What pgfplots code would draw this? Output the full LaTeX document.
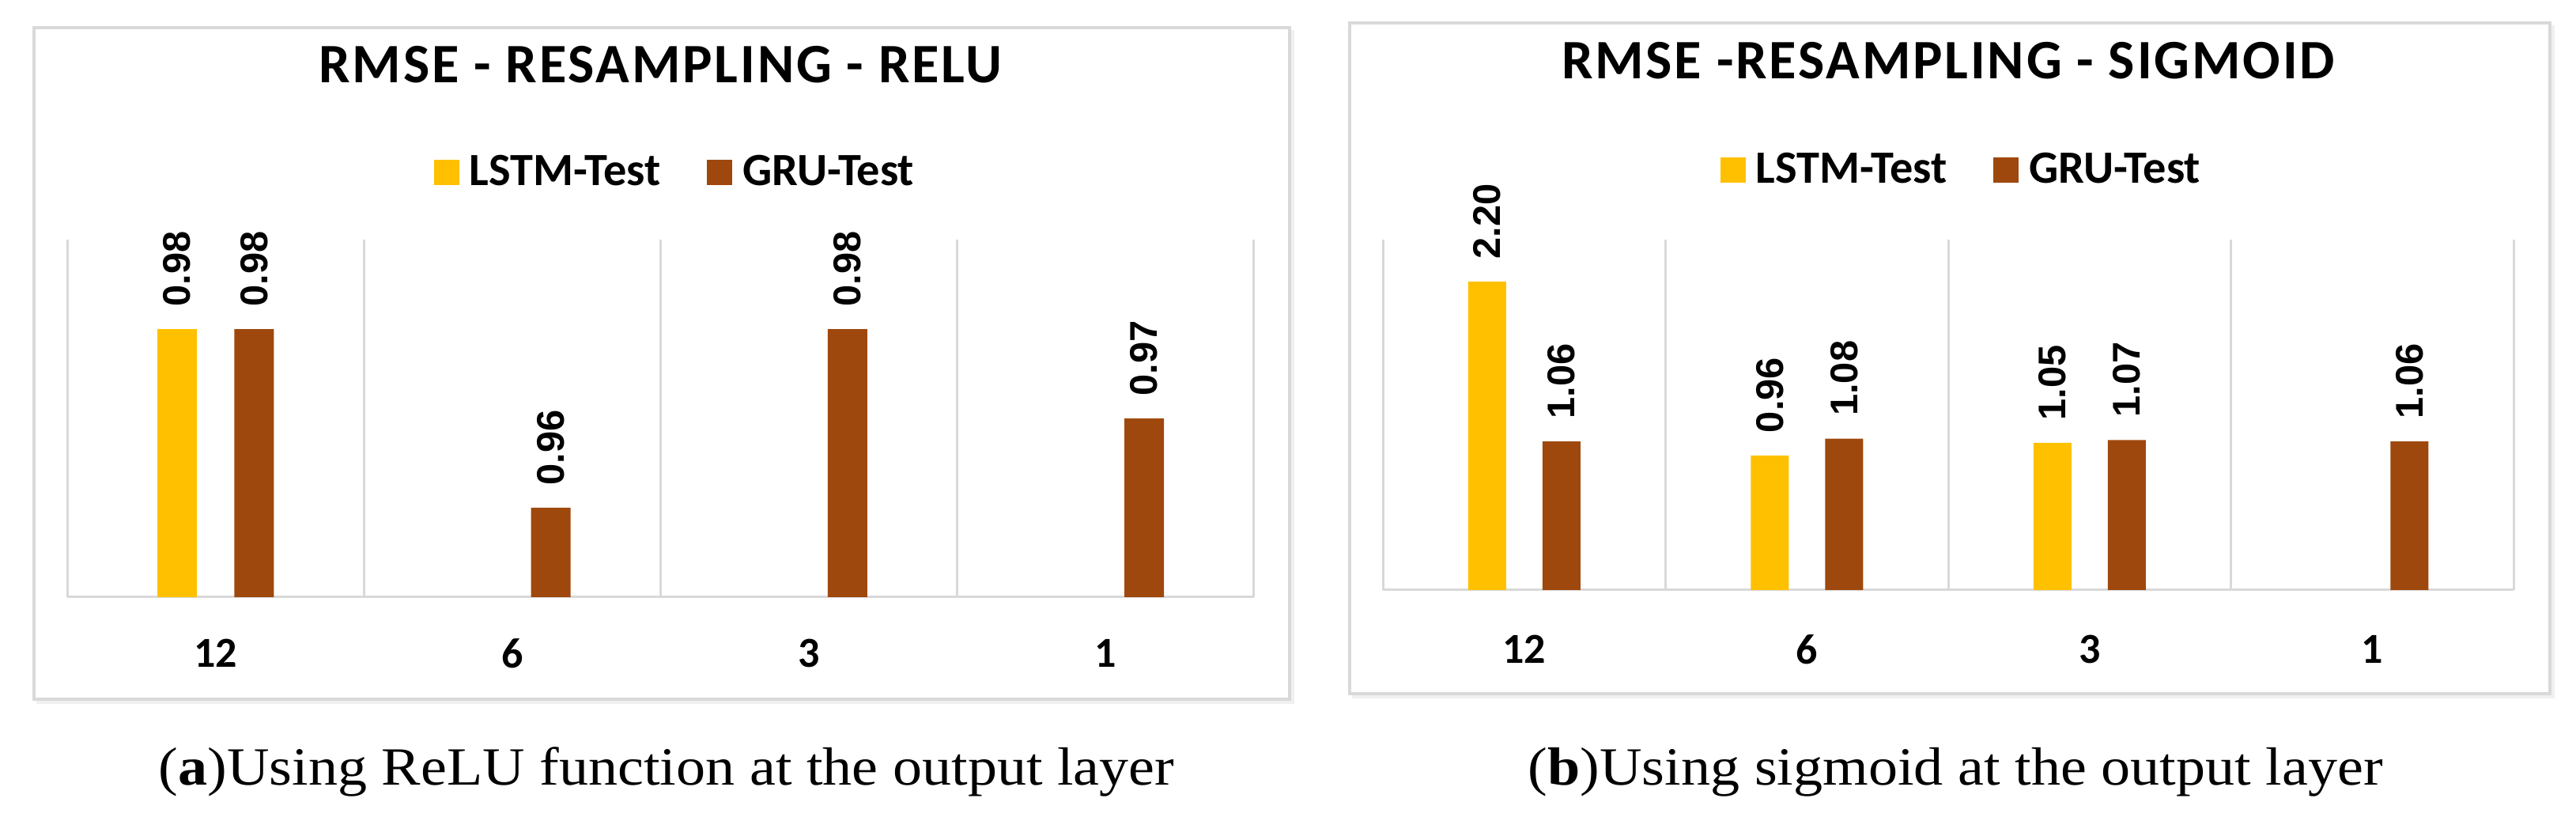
\documentclass[border=0pt]{standalone}
\usepackage{fontspec}
\setmainfont{Carlito}
\newfontfamily\lblfont{Liberation Sans}
\newfontfamily\capfont{Liberation Serif}
\usepackage{graphicx}
\usepackage{pgfplots}
\pgfplotsset{compat=1.18}

\definecolor{lstm}{HTML}{FFC000}
\definecolor{gru}{HTML}{9E480E}
\definecolor{gridc}{HTML}{D9D9D9}

\newcommand{\barlabel}[1]{{\lblfont\bfseries\fontsize{12.2}{14}\selectfont
  \rotatebox{90}{\pgfmathprintnumber[fixed,fixed zerofill,precision=2,assume math mode=true]{#1}}}}

\pgfplotsset{
  rmse/.style={
    scale only axis, anchor=south west,
    xmin=-0.5, xmax=3.5,
    xtick={0,1,2,3}, xticklabels={12,6,3,1},
    minor xtick={-0.5,0.5,1.5,2.5,3.5},
    xminorgrids=true,
    minor grid style={draw=gridc, line width=0.75pt},
    axis x line=bottom, axis y line=none,
    x axis line style={-, draw=gridc, line width=0.75pt},
    ytick=\empty,
    major tick length=0pt, minor tick length=0pt,
    xticklabel style={font=\bfseries\fontsize{13.5}{15}\selectfont, anchor=center},
    title style={font=\bfseries\fontsize{17.6}{19}\selectfont\addfontfeatures{LetterSpace=4}, anchor=center},
    legend columns=2,
    legend style={draw=none, fill=none, inner sep=0pt, anchor=west,
      nodes={inner sep=0pt, font=\bfseries\fontsize{14.6}{16}\selectfont},
      /tikz/every odd column/.append style={column sep=3.25pt},
      /tikz/every even column/.append style={column sep=14.75pt}},
    nodes near coords={\barlabel{\pgfplotspointmeta}},
    every node near coord/.append style={inner xsep=0pt, inner ysep=7pt, text=black},
  },
  sq/.style={legend image code/.code={\fill[##1] (0pt,-4pt) rectangle (8pt,4pt);}},
}

\begin{document}
\begin{tikzpicture}
\useasboundingbox (0,0) rectangle (814.5pt,259.5pt);

% chart frames with a faint shadow
\draw[black!6, line width=1.2pt] (11.5pt,37.6pt) -- (408.6pt,37.6pt) -- (408.6pt,250pt);
\draw[black!6, line width=1.2pt] (427.5pt,39.3pt) -- (807.1pt,39.3pt) -- (807.1pt,251.5pt);
\draw[gridc, line width=0.8pt, fill=white] (10.75pt,38.5pt) rectangle (407.75pt,250.75pt);
\draw[gridc, line width=0.8pt, fill=white] (426.75pt,40.25pt) rectangle (806.25pt,252.25pt);

% (a) ReLU
\begin{axis}[rmse,
  at={(21.25pt,70.75pt)}, width=375.25pt, height=113pt,
  ybar=11.875pt, bar width=12.5pt,
  ymin=0.95, ymax=0.99,
  xticklabel style={yshift=-17.75pt},
  title={RMSE - RESAMPLING - RELU},
  title style={at={(0.5,1.436)}},
  legend style={at={(0.3085,1.188)}}]
  \addplot[fill=lstm, draw=none, sq] coordinates {(0,0.98)};
  \addplot[fill=gru, draw=none, sq] coordinates {(0,0.98) (1,0.96) (2,0.98) (3,0.97)};
  \legend{LSTM-Test, GRU-Test}
\end{axis}

% (b) sigmoid
\begin{axis}[rmse,
  at={(437.25pt,73pt)}, width=357.5pt, height=110.75pt,
  ybar=11.5pt, bar width=12pt,
  ymin=0, ymax=2.5,
  xticklabel style={yshift=-18.75pt},
  title={RMSE -RESAMPLING - SIGMOID},
  title style={at={(0.5,1.456)}},
  legend style={at={(0.2979,1.1986)}}]
  \addplot[fill=lstm, draw=none, sq] coordinates {(0,2.20) (1,0.96) (2,1.05)};
  \addplot[fill=gru, draw=none, sq] coordinates {(0,1.06) (1,1.08) (2,1.07) (3,1.06)};
  \legend{LSTM-Test, GRU-Test}
\end{axis}

% captions
\node[anchor=base west, inner sep=0pt, xscale=1.09, font=\capfont\fontsize{17}{20}\selectfont]
  at (50pt,11.25pt) {(\textbf{a})Using ReLU function at the output layer};
\node[anchor=base west, inner sep=0pt, xscale=1.09, font=\capfont\fontsize{17}{20}\selectfont]
  at (483pt,11.25pt) {(\textbf{b})Using sigmoid at the output layer};
\end{tikzpicture}
\end{document}
